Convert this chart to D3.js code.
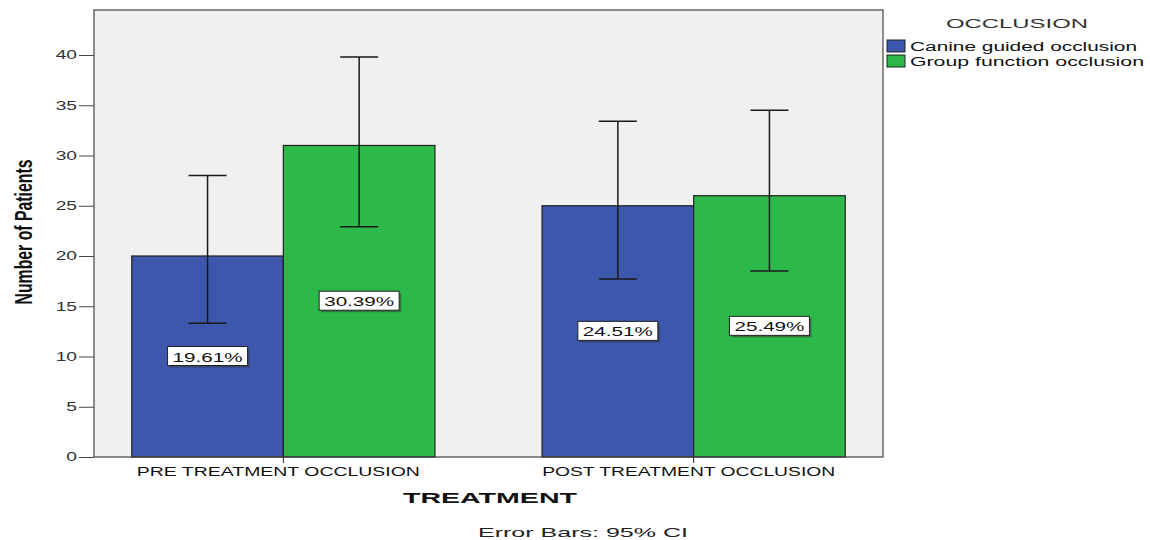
<!DOCTYPE html>
<html>
<head>
<meta charset="utf-8">
<script src="https://cdn.jsdelivr.net/npm/d3@7"></script>
<style>
  html, body { margin: 0; padding: 0; background: #fff; }
  svg { display: block; font-family: Arial, "Liberation Sans", sans-serif; }
</style>
</head>
<body>
<svg id="chart" width="1150" height="540"></svg>
<script>
// Patient counts by treatment stage and occlusion type, with 95% CI bounds
const categories = ["PRE TREATMENT OCCLUSION", "POST TREATMENT OCCLUSION"];
const groups = ["Canine guided occlusion", "Group function occlusion"];
const canineCounts = [20, 25];
const groupCounts = [31, 26];
const canineLower = [13.3, 17.7];
const canineUpper = [28.0, 33.4];
const groupLower = [22.9, 18.5];
const groupUpper = [39.8, 34.5];
const percentLabels = [["19.61%", "30.39%"], ["24.51%", "25.49%"]];
const yTicks = [0, 5, 10, 15, 20, 25, 30, 35, 40];
const colors = ["#3c57ab", "#2db84a"];

const rows = categories.map((c, i) => ({
  category: c,
  bars: [
    { group: groups[0], value: canineCounts[i], lo: canineLower[i], hi: canineUpper[i], label: percentLabels[i][0] },
    { group: groups[1], value: groupCounts[i], lo: groupLower[i], hi: groupUpper[i], label: percentLabels[i][1] }
  ]
}));

const svg = d3.select("#chart");
const plot = { left: 94, top: 10, right: 883, bottom: 457 };

// wide, stretched text look: fit a label to a set width
function fit(sel, width) {
  sel.attr("textLength", width).attr("lengthAdjust", "spacingAndGlyphs");
  return sel;
}

const y = d3.scaleLinear().domain([0, 40]).range([plot.bottom, 55]);
const x0 = d3.scaleBand().domain(categories).range([plot.left, plot.right])
  .paddingInner(0.261).paddingOuter(0.092);
const x1 = d3.scaleBand().domain(groups).range([0, x0.bandwidth()]);

// plot background
svg.append("rect")
  .attr("x", plot.left).attr("y", plot.top)
  .attr("width", plot.right - plot.left).attr("height", plot.bottom - plot.top)
  .attr("fill", "#f0f0f0");

// bars
const cat = svg.selectAll("g.cat").data(rows).join("g")
  .attr("class", "cat")
  .attr("transform", d => `translate(${x0(d.category)},0)`);

cat.selectAll("rect.bar").data(d => d.bars).join("rect")
  .attr("class", "bar")
  .attr("x", d => x1(d.group))
  .attr("y", d => y(d.value))
  .attr("width", x1.bandwidth())
  .attr("height", d => y(0) - y(d.value))
  .attr("fill", (d, i) => colors[i])
  .attr("stroke", "#222")
  .attr("stroke-width", 1.2);

// error bars
const capHalf = 19;
const eb = cat.selectAll("g.err").data(d => d.bars).join("g")
  .attr("class", "err")
  .attr("transform", d => `translate(${x1(d.group) + x1.bandwidth() / 2},0)`)
  .attr("stroke", "#1a1a1a")
  .attr("stroke-width", 1.5);
eb.append("line").attr("x1", 0).attr("x2", 0).attr("y1", d => y(d.lo)).attr("y2", d => y(d.hi));
eb.append("line").attr("x1", -capHalf).attr("x2", capHalf).attr("y1", d => y(d.lo)).attr("y2", d => y(d.lo));
eb.append("line").attr("x1", -capHalf).attr("x2", capHalf).attr("y1", d => y(d.hi)).attr("y2", d => y(d.hi));

// percentage labels at half bar height
const lab = cat.selectAll("g.lab").data(d => d.bars).join("g")
  .attr("class", "lab")
  .attr("transform", d => `translate(${x1(d.group) + x1.bandwidth() / 2},${y(d.value / 2)})`);
lab.append("rect")
  .attr("x", -38).attr("y", -8).attr("width", 80).attr("height", 19)
  .attr("fill", "#333").attr("opacity", 0.5);
lab.append("rect")
  .attr("x", -40).attr("y", -10).attr("width", 80).attr("height", 19)
  .attr("fill", "#fff").attr("stroke", "#222").attr("stroke-width", 1);
lab.append("text")
  .attr("x", 0).attr("y", 5)
  .attr("text-anchor", "middle")
  .attr("font-size", 13)
  .attr("fill", "#111")
  .text(d => d.label)
  .call(fit, 70);

// plot frame
svg.append("rect")
  .attr("x", plot.left).attr("y", plot.top)
  .attr("width", plot.right - plot.left).attr("height", plot.bottom - plot.top)
  .attr("fill", "none").attr("stroke", "#444").attr("stroke-width", 1.2);

// y axis
const yAxis = svg.append("g")
  .attr("transform", `translate(${plot.left},0)`)
  .call(d3.axisLeft(y).tickValues(yTicks).tickSize(15).tickPadding(2));
yAxis.select(".domain").remove();
yAxis.selectAll(".tick line").attr("stroke", "#444");
const ySx = 1.6;
yAxis.selectAll(".tick text")
  .attr("font-size", 12).attr("fill", "#333")
  .attr("font-family", "Arial, 'Liberation Sans', sans-serif")
  .attr("x", -17 / ySx)
  .attr("transform", `scale(${ySx},1)`);

// x axis
const xAxis = svg.append("g")
  .attr("transform", `translate(0,${plot.bottom})`)
  .call(d3.axisBottom(x0).tickSize(6).tickPadding(4));
xAxis.select(".domain").remove();
xAxis.selectAll(".tick line").attr("stroke", "#222");
xAxis.selectAll(".tick text")
  .attr("font-size", 12.5).attr("fill", "#111")
  .attr("font-family", "Arial, 'Liberation Sans', sans-serif")
  .attr("x", -5)
  .each(function (d, i) { fit(d3.select(this), i === 0 ? 283 : 293); });

// axis titles
svg.append("text")
  .attr("x", 490).attr("y", 503)
  .attr("text-anchor", "middle")
  .attr("font-size", 14.5).attr("font-weight", "bold")
  .attr("fill", "#111")
  .text("TREATMENT")
  .call(fit, 174);

svg.append("text")
  .attr("transform", "translate(32,232) rotate(-90)")
  .attr("text-anchor", "middle")
  .attr("font-family", "'Liberation Sans Narrow', 'Arial Narrow', sans-serif")
  .attr("font-size", 23).attr("font-weight", "bold")
  .attr("fill", "#111")
  .text("Number of Patients")
  .call(fit, 145);

svg.append("text")
  .attr("x", 583).attr("y", 537)
  .attr("text-anchor", "middle")
  .attr("font-size", 13.5)
  .attr("fill", "#222")
  .text("Error Bars: 95% CI")
  .call(fit, 210);

// legend
const legend = svg.append("g").attr("transform", "translate(887,0)");
legend.append("text")
  .attr("x", 130).attr("y", 28)
  .attr("text-anchor", "middle")
  .attr("font-size", 12.5)
  .attr("fill", "#333")
  .text("OCCLUSION")
  .call(fit, 142);
const legendWidths = [227, 234];
const item = legend.selectAll("g.item").data(groups).join("g")
  .attr("class", "item")
  .attr("transform", (d, i) => `translate(0,${40 + i * 15})`);
item.append("rect")
  .attr("width", 18).attr("height", 12)
  .attr("fill", (d, i) => colors[i])
  .attr("stroke", "#222").attr("stroke-width", 1);
item.append("text")
  .attr("x", 23).attr("y", 10.5)
  .attr("font-size", 12.5)
  .attr("fill", "#111")
  .text(d => d)
  .each(function (d, i) { fit(d3.select(this), legendWidths[i]); });
</script>
</body>
</html>
